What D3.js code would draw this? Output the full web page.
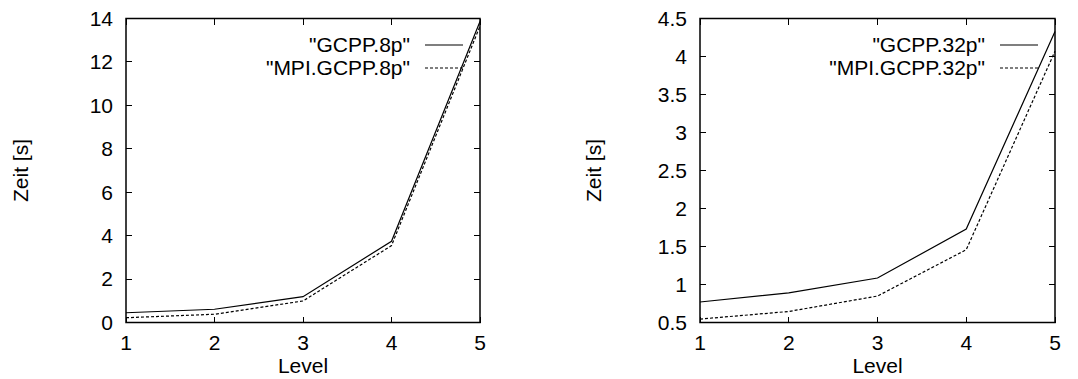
<!DOCTYPE html>
<html>
<head>
<meta charset="utf-8">
<script src="https://cdn.jsdelivr.net/npm/d3@7"></script>
<style>
    body { margin: 0; background: #fff; }
    text { font-family: "Liberation Sans", Arial, sans-serif; fill: #000; }
</style>
</head>
<body>
<div id="chart"></div>
<script>
const width = 1078;
const height = 379;

const levels = [1, 2, 3, 4, 5];

const gcpp8 = [0.45, 0.61, 1.19, 3.74, 13.86];
const mpiGcpp8 = [0.22, 0.38, 0.99, 3.54, 13.65];

const gcpp32 = [0.77, 0.89, 1.085, 1.73, 4.33];
const mpiGcpp32 = [0.545, 0.645, 0.848, 1.458, 4.07];

const yTicks8 = [0, 2, 4, 6, 8, 10, 12, 14];
const yTicks32 = [0.5, 1, 1.5, 2, 2.5, 3, 3.5, 4, 4.5];

const panels = [
    {
        left: 126, right: 480, yDomain: [0, 14], yTicks: yTicks8, labelX: 21,
        series: [
            { name: '"GCPP.8p"', values: gcpp8, dash: null },
            { name: '"MPI.GCPP.8p"', values: mpiGcpp8, dash: '3,2' }
        ]
    },
    {
        left: 700, right: 1055, yDomain: [0.5, 4.5], yTicks: yTicks32, labelX: 594,
        series: [
            { name: '"GCPP.32p"', values: gcpp32, dash: null },
            { name: '"MPI.GCPP.32p"', values: mpiGcpp32, dash: '3,2' }
        ]
    }
];

const plotTop = 18.5;
const plotBottom = 322.5;
const tickLen = 6;
const fontSize = 21;

const svg = d3.select('#chart').append('svg')
    .attr('width', width)
    .attr('height', height);

panels.forEach(p => {
    const x = d3.scaleLinear().domain([1, 5]).range([p.left, p.right]);
    const y = d3.scaleLinear().domain(p.yDomain).range([plotBottom, plotTop]);
    const g = svg.append('g');

    // ticks on all four sides, pointing inward (gnuplot mirror style)
    const ticks = g.append('g')
        .attr('stroke', '#000')
        .attr('stroke-width', 1)
        .attr('shape-rendering', 'crispEdges');
    p.yTicks.forEach(t => {
        ticks.append('line').attr('x1', p.left).attr('x2', p.left + tickLen)
            .attr('y1', y(t)).attr('y2', y(t));
        ticks.append('line').attr('x1', p.right).attr('x2', p.right - tickLen)
            .attr('y1', y(t)).attr('y2', y(t));
    });
    levels.forEach(l => {
        ticks.append('line').attr('x1', x(l)).attr('x2', x(l))
            .attr('y1', plotBottom).attr('y2', plotBottom - tickLen);
        ticks.append('line').attr('x1', x(l)).attr('x2', x(l))
            .attr('y1', plotTop).attr('y2', plotTop + tickLen);
    });

    g.append('g')
        .selectAll('text')
        .data(p.yTicks)
        .enter().append('text')
        .attr('x', p.left - 13)
        .attr('y', d => y(d))
        .attr('dy', '0.35em')
        .attr('text-anchor', 'end')
        .attr('font-size', fontSize)
        .text(d => d);

    g.append('g')
        .selectAll('text')
        .data(levels)
        .enter().append('text')
        .attr('x', d => x(d))
        .attr('y', 343)
        .attr('dy', '0.35em')
        .attr('text-anchor', 'middle')
        .attr('font-size', fontSize)
        .text(d => d);

    g.append('text')
        .attr('x', (p.left + p.right) / 2)
        .attr('y', 366)
        .attr('dy', '0.35em')
        .attr('text-anchor', 'middle')
        .attr('font-size', fontSize)
        .text('Level');

    g.append('text')
        .attr('transform', `translate(${p.labelX}, ${(plotTop + plotBottom) / 2}) rotate(-90)`)
        .attr('dy', '0.35em')
        .attr('text-anchor', 'middle')
        .attr('font-size', fontSize)
        .text('Zeit [s]');

    const line = d3.line()
        .x((d, i) => x(levels[i]))
        .y(d => y(d));

    p.series.forEach((s, i) => {
        g.append('path')
            .datum(s.values)
            .attr('fill', 'none')
            .attr('stroke', '#000')
            .attr('stroke-width', 1.2)
            .attr('stroke-dasharray', s.dash)
            .attr('d', line);

        const ly = 45 + i * 23;
        g.append('text')
            .attr('x', p.right - 70)
            .attr('y', ly)
            .attr('dy', '0.35em')
            .attr('text-anchor', 'end')
            .attr('font-size', fontSize)
            .text(s.name);
        g.append('line')
            .attr('x1', p.right - 55)
            .attr('x2', p.right - 17)
            .attr('y1', ly)
            .attr('y2', ly)
            .attr('stroke', '#000')
            .attr('stroke-width', 1.2)
            .attr('stroke-dasharray', s.dash);
    });

    g.append('rect')
        .attr('x', p.left)
        .attr('y', plotTop)
        .attr('width', p.right - p.left)
        .attr('height', plotBottom - plotTop)
        .attr('fill', 'none')
        .attr('stroke', '#000')
        .attr('stroke-width', 1.5);
});
</script>
</body>
</html>
